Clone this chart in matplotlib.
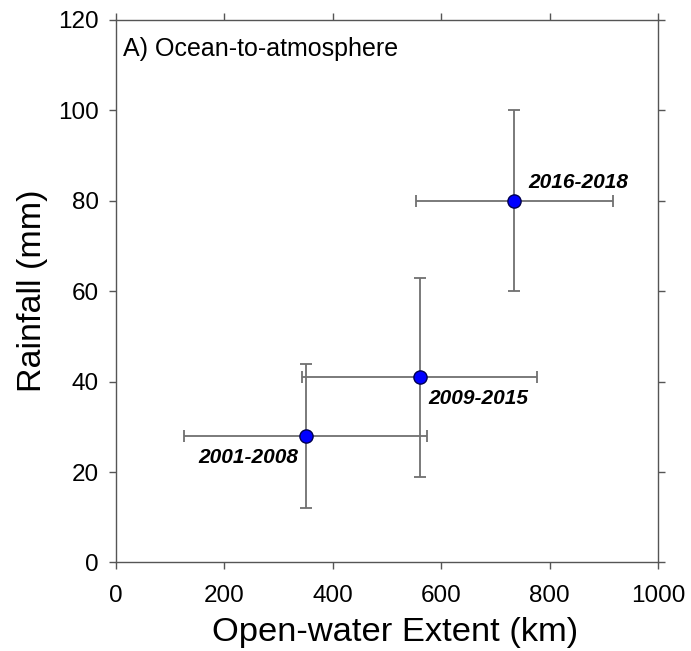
import matplotlib
matplotlib.use("Agg")
import matplotlib.pyplot as plt

plt.rcParams['font.family'] = ['Liberation Sans', 'DejaVu Sans']

# Period means with their spreads
periods = ["2001-2008", "2009-2015", "2016-2018"]
extent_km = [350, 560, 735]
extent_err = [224, 217, 181]
rainfall_mm = [28, 41, 80]
rainfall_err = [16, 22, 20]

x_ticks = [0, 200, 400, 600, 800, 1000]
y_ticks = [0, 20, 40, 60, 80, 100, 120]

fig = plt.figure(figsize=(6.91, 6.51), dpi=100)
ax = fig.add_axes([0.1679, 0.1360, 0.7844, 0.8333])

ax.errorbar(extent_km, rainfall_mm, xerr=extent_err, yerr=rainfall_err,
            fmt='none', ecolor='#707070', elinewidth=1.3, capsize=4.2,
            capthick=1.3, zorder=2)
ax.plot(extent_km, rainfall_mm, 'o', markersize=9.5, markerfacecolor='#0000ff',
        markeredgecolor='#000050', markeredgewidth=1.0, zorder=3)

# Period labels placed beside each point
offsets = [(-5.5, -15.8, 'right'), (6.5, -15.6, 'left'), (10.3, 13.5, 'left')]
for name, x, y, (dx, dy, ha) in zip(periods, extent_km, rainfall_mm, offsets):
    ax.annotate(name, (x, y), xytext=(dx, dy), textcoords='offset points',
                ha=ha, va='center', fontsize=15, fontweight='bold',
                fontstyle='italic', color='black')

ax.set_xlim(0, 1000)
ax.set_ylim(0, 120)
ax.set_xticks(x_ticks)
ax.set_yticks(y_ticks)
ax.tick_params(direction='out', length=4.8, width=1.0, color='#555555',
               labelsize=17.5, pad=7.5, top=True, right=True,
               labeltop=False, labelright=False)
ax.tick_params(axis='x', pad=11.5)
for s in ax.spines.values():
    s.set_color('#555555')
    s.set_linewidth(1.0)

ax.set_xlabel("Open-water Extent (km)", fontsize=24.8, labelpad=7)
ax.xaxis.label.set_x(0.515)
ax.set_ylabel("Rainfall (mm)", fontsize=24.5, labelpad=7)
ax.text(0.013, 0.968, "A) Ocean-to-atmosphere", transform=ax.transAxes,
        ha='left', va='top', fontsize=18)

fig.savefig("out.png", dpi=100)
